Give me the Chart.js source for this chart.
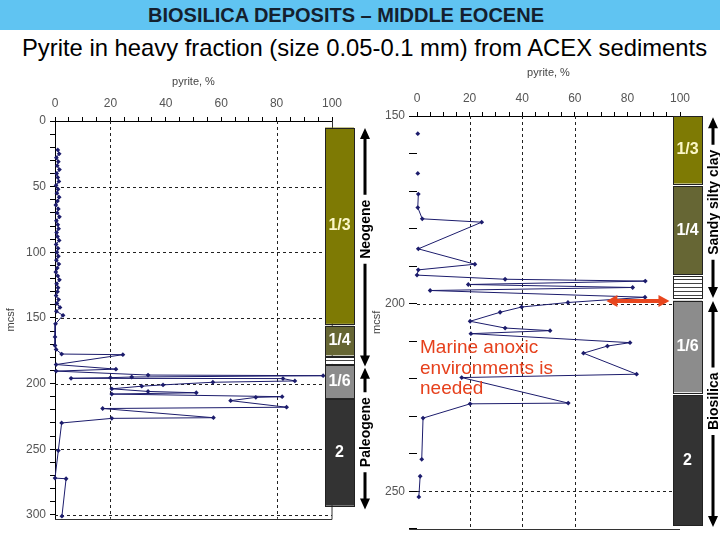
<!DOCTYPE html>
<html>
<head>
<meta charset="utf-8">
<script src="https://cdn.jsdelivr.net/npm/chart.js@4.4.1/dist/chart.umd.min.js"></script>
<style>
body { margin: 0; width: 720px; height: 540px; position: relative; overflow: hidden; background: #fff; font-family: Arial, "Liberation Sans", sans-serif; }
#band { position: absolute; left: 0; top: 0; width: 720px; height: 30px; background: #60c4f2; }
#head { position: absolute; left: 0; top: 4px; width: 692px; text-align: center; font-weight: bold; font-size: 20px; color: #14202e; }
#sub { position: absolute; left: 22px; top: 34px; font-size: 23.8px; color: #000; white-space: nowrap; }
#note { position: absolute; left: 420px; top: 337px; font-size: 19px; line-height: 20.5px; color: #e6401c; z-index: 2; }
canvas { position: absolute; }
#left { left: 0; top: 60px; }
#right { left: 370px; top: 55px; }
</style>
</head>
<body>
<div id="band"></div>
<div id="head">BIOSILICA DEPOSITS – MIDDLE EOCENE</div>
<div id="sub">Pyrite in heavy fraction (size 0.05-0.1 mm) from ACEX sediments</div>
<canvas id="left" width="380" height="470"></canvas>
<canvas id="right" width="350" height="485"></canvas>
<div id="note">Marine anoxic<br>environments is<br>needed</div>
<script>
// left core: depth (mcsf) and pyrite (%)
var leftDepth = [22, 25, 28, 31, 34, 37, 40, 43, 46, 49, 52, 55, 58, 61, 64, 67, 70, 73, 76, 79,
  82, 85, 88, 91, 94, 97, 100, 103, 106, 109, 112, 115, 118, 121, 124, 127, 130, 133, 136, 139,
  142, 145, 148, 154.5, 164.5, 171, 174, 177.5, 178, 185.5, 189, 190.5, 193.5, 194, 195, 195.5,
  196, 196.2, 198, 199, 201, 202, 204, 206, 207, 208, 210, 210.5, 213, 218, 219, 226, 226.5,
  230, 251, 272, 272.5, 301];
var leftPyrite = [1.0, 1.5, 0.5, 1.2, 0.8, 1.6, 0.6, 1.0, 1.4, 0.4, 1.1, 0.7, 1.5, 0.9, 0.3, 1.2, 0.8, 1.6, 0.5, 1.0,
  1.3, 0.6, 0.9, 1.5, 0.4, 1.1, 0.7, 1.2, 0.5, 1.4, 0.8, 0.3, 1.0, 1.6, 0.6, 1.1, 0.9, 0.4, 1.3, 0.7,
  1.8, 0.5, 2.9, 0.2, 0.0, 0.0, 0.4, 2.4, 24.5, 0.4, 22, 0.4, 33.6, 96.8, 27.7, 20,
  5.8, 82.3, 86.6, 57, 39, 31.3, 20.5, 33.6, 51, 20.5, 82, 72.5, 63.4, 83.6, 17.2, 57.2, 20.5,
  2.4, 1.2, 0.0, 4.0, 2.5];

// right core (expanded 150-260 mcsf), null = gap in the record
var rightDepth = [154.7, null, 165.3, null, 170.8, 174.4, 177.4, 178.3, 185.4, 189.5, 191, 192.4,
  193.5, 194, 194.9, 195.7, 196.5, 198.3, 199.7, 200.9, 202.3, 204.7, 206.5, 207.2, 208, 210.4,
  211.3, 213.2, 218.8, 219.7, 226.5, 226.7, 230.5, 241.5, null, 246, 251.5];
var rightPyrite = [0.3, null, 0.3, null, 0.5, 0.3, 2.0, 24.6, 0.5, 22, 0.5, 0,
  33.5, 86.8, 19.5, 82, 5, 86.7, 57.4, 39.8, 31.6, 20.2, 33.5, 50.6, 20.5, 81,
  72.4, 63.3, 83.5, 17, 57.5, 20.2, 2.3, 1.8, null, 1.2, 0.7];

// lithology column
var units = ['1/3', '1/4', '', '1/6', '2'];
var unitColors = ['#7e7a04', '#666634', '#ffffff', '#8c8c8c', '#333333'];
var leftUnitTop = [5, 156, 180, 186, 211.5];
var leftUnitBase = [154.5, 178.5, 185, 211, 293];
var rightUnitTop = [150, 168.7, 192.7, 199.2, 224.4];
var rightUnitBase = [168, 192.2, 198.5, 223.6, 259];

// stratigraphic brackets
var leftBrackets = ['Neogene', 'Paleogene'];
var leftBracketFrom = [5.3, 188];
var leftBracketTo = [187, 296];
var leftBracketMid = [82.5, 237];
var rightBrackets = ['Sandy silty clay', 'Biosilica'];
var rightBracketFrom = [150.3, 199.3];
var rightBracketTo = [198.5, 259.5];
var rightBracketMid = [173, 226];

var navy = '#1c1c6c';

function points(depth, vals) {
  return depth.map(function (d, i) {
    return d === null ? { x: null, y: null } : { x: vals[i], y: d };
  });
}

function range(a, b, s) {
  var out = [];
  for (var v = a; v <= b; v += s) out.push({ value: v });
  return out;
}

var overlay = {
  id: 'overlay',
  beforeDatasetsDraw: function (chart, args, o) {
    var ctx = chart.ctx, xs = chart.scales.x, ys = chart.scales.y, a = chart.chartArea;
    ctx.save();
    ctx.strokeStyle = '#222';
    ctx.lineWidth = 1;
    ctx.setLineDash([3, 3]);
    o.gridX.forEach(function (v) {
      var p = Math.round(xs.getPixelForValue(v)) + 0.5;
      ctx.beginPath(); ctx.moveTo(p, a.top); ctx.lineTo(p, a.bottom); ctx.stroke();
    });
    o.gridY.forEach(function (v) {
      var p = Math.round(ys.getPixelForValue(v)) + 0.5;
      ctx.beginPath(); ctx.moveTo(a.left, p); ctx.lineTo(a.right, p); ctx.stroke();
    });
    ctx.setLineDash([]);
    ctx.strokeStyle = '#333';
    ctx.beginPath();
    ctx.moveTo(o.bottomFrom === undefined ? a.left : xs.getPixelForValue(o.bottomFrom), Math.round(a.bottom) + 0.5);
    ctx.lineTo(a.right, Math.round(a.bottom) + 0.5);
    if (o.rightFrame) {
      ctx.lineTo(Math.round(a.right) + 0.5, a.top);
    }
    ctx.stroke();
    ctx.restore();
  },
  afterDatasetsDraw: function (chart, args, o) {
    var ctx = chart.ctx, ys = chart.scales.y, xs = chart.scales.x, a = chart.chartArea;
    ctx.save();
    var x0 = a.right - 7, w = 29;
    o.tops.forEach(function (t, i) {
      var y0 = ys.getPixelForValue(t), y1 = ys.getPixelForValue(o.bases[i]);
      ctx.fillStyle = unitColors[i];
      ctx.fillRect(x0, y0, w, y1 - y0);
      if (units[i] === '') {
        ctx.strokeStyle = '#444';
        ctx.lineWidth = 1;
        for (var yy = y0 + 3; yy < y1 - 1; yy += 4) {
          ctx.beginPath(); ctx.moveTo(x0, Math.round(yy) + 0.5); ctx.lineTo(x0 + w, Math.round(yy) + 0.5); ctx.stroke();
        }
      }
      ctx.strokeStyle = '#222';
      ctx.lineWidth = 1;
      ctx.strokeRect(Math.round(x0) + 0.5, Math.round(y0) + 0.5, w, Math.round(y1 - y0));
      if (units[i]) {
        ctx.fillStyle = i === 0 ? '#fbf7c8' : '#ffffff';
        ctx.font = 'bold 16px Arial, "Liberation Sans", sans-serif';
        ctx.textAlign = 'center';
        ctx.textBaseline = 'middle';
        ctx.fillText(units[i], x0 + w / 2, (y0 + y1) / 2);
      }
    });

    // brackets with arrows
    var bx = a.right + 33;
    ctx.font = 'bold 14px Arial, "Liberation Sans", sans-serif';
    ctx.fillStyle = '#000';
    ctx.strokeStyle = '#000';
    ctx.lineWidth = 3;
    o.brackets.forEach(function (name, i) {
      var yt = ys.getPixelForValue(o.bFrom[i]), yb = ys.getPixelForValue(o.bTo[i]), ym = ys.getPixelForValue(o.bMid[i]);
      var tw = ctx.measureText(name).width;
      ctx.save();
      ctx.translate(bx, ym);
      ctx.rotate(-Math.PI / 2);
      ctx.textAlign = 'center';
      ctx.textBaseline = 'middle';
      ctx.fillText(name, 0, 1);
      ctx.restore();
      ctx.beginPath();
      ctx.moveTo(bx, yt + 9); ctx.lineTo(bx, ym - tw / 2 - 5);
      ctx.moveTo(bx, ym + tw / 2 + 5); ctx.lineTo(bx, yb - 9);
      ctx.stroke();
      ctx.beginPath();
      ctx.moveTo(bx, yt); ctx.lineTo(bx - 5, yt + 11); ctx.lineTo(bx + 5, yt + 11); ctx.closePath();
      ctx.moveTo(bx, yb); ctx.lineTo(bx - 5, yb - 11); ctx.lineTo(bx + 5, yb - 11); ctx.closePath();
      ctx.fill();
    });

    // red double arrow
    if (o.arrow) {
      var ay = ys.getPixelForValue(o.arrow[0]);
      var ax0 = xs.getPixelForValue(o.arrow[1]), ax1 = xs.getPixelForValue(o.arrow[2]);
      ctx.strokeStyle = '#e8461e';
      ctx.fillStyle = '#e8461e';
      ctx.lineWidth = 4;
      ctx.beginPath(); ctx.moveTo(ax0 + 8, ay); ctx.lineTo(ax1 - 8, ay); ctx.stroke();
      ctx.beginPath();
      ctx.moveTo(ax0, ay); ctx.lineTo(ax0 + 11, ay - 6); ctx.lineTo(ax0 + 11, ay + 6); ctx.closePath();
      ctx.moveTo(ax1, ay); ctx.lineTo(ax1 - 11, ay - 6); ctx.lineTo(ax1 - 11, ay + 6); ctx.closePath();
      ctx.fill();
    }
    ctx.restore();
  }
};

function makeChart(id, cfg) {
  var ctx = document.getElementById(id).getContext('2d');
  return new Chart(ctx, {
    type: 'scatter',
    data: {
      datasets: [{
        data: points(cfg.depth, cfg.pyrite),
        showLine: true,
        spanGaps: false,
        borderColor: navy,
        borderWidth: 1,
        backgroundColor: navy,
        pointBackgroundColor: navy,
        pointBorderColor: navy,
        pointBorderWidth: 0,
        pointStyle: 'rectRot',
        pointRadius: 2.4,
        clip: false
      }]
    },
    options: {
      responsive: false,
      animation: false,
      layout: { padding: cfg.padding },
      plugins: {
        legend: { display: false },
        tooltip: { enabled: false },
        overlay: cfg.overlay
      },
      scales: {
        x: {
          type: 'linear',
          position: 'top',
          min: 0,
          max: 100,
          afterBuildTicks: function (s) { s.ticks = range(0, 100, 5); },
          afterFit: function (s) { s.height = cfg.xHeight; },
          ticks: {
            autoSkip: false, maxRotation: 0, minRotation: 0, padding: 6,
            color: '#555', font: { size: 12 },
            callback: function (v) { return v % 20 === 0 ? v : ''; }
          },
          grid: { drawOnChartArea: false, tickLength: 4, tickColor: '#000' },
          border: { color: '#000', width: 1 },
          title: { display: true, text: 'pyrite, %', color: '#444', font: { size: 11 }, padding: { top: cfg.titleTop, bottom: 0 } }
        },
        y: {
          type: 'linear',
          reverse: true,
          min: cfg.yMin,
          max: cfg.yMax,
          afterBuildTicks: function (s) { s.ticks = range(cfg.yMin, cfg.yMax, 10); },
          afterFit: function (s) { s.width = cfg.yWidth; },
          ticks: {
            autoSkip: false, padding: 4,
            color: '#555', font: { size: 12 },
            callback: function (v) { return v % 50 === 0 ? v : ''; }
          },
          grid: { drawOnChartArea: false, tickLength: cfg.yTick, tickColor: '#000' },
          border: { display: cfg.yBorder, color: '#000', width: 1 },
          title: { display: true, text: 'mcsf', color: '#444', font: { size: 11 }, padding: { top: cfg.yTitlePad, bottom: 0 } }
        }
      }
    },
    plugins: [overlay]
  });
}

makeChart('left', {
  depth: leftDepth, pyrite: leftPyrite,
  yMin: 0, yMax: 303, xHeight: 61, yWidth: 55, yTick: 5, yBorder: true, yTitlePad: 4, titleTop: 15,
  padding: { left: 0, top: 0, right: 48, bottom: 6 },
  overlay: {
    gridX: [20, 80], gridY: [50, 100, 150, 200, 250, 300], rightFrame: true,
    tops: leftUnitTop, bases: leftUnitBase,
    brackets: leftBrackets, bFrom: leftBracketFrom, bTo: leftBracketTo, bMid: leftBracketMid
  }
});

makeChart('right', {
  depth: rightDepth, pyrite: rightPyrite,
  yMin: 150, yMax: 260, xHeight: 61, yWidth: 47, yTick: 8, yBorder: false, yTitlePad: 0, titleTop: 11,
  padding: { left: 0, top: 0, right: 40, bottom: 7 },
  overlay: {
    gridX: [20, 40, 60], gridY: [200, 250], rightFrame: false, bottomFrom: -3,
    tops: rightUnitTop, bases: rightUnitBase,
    brackets: rightBrackets, bFrom: rightBracketFrom, bTo: rightBracketTo, bMid: rightBracketMid,
    arrow: [199.3, 72, 96]
  }
});
</script>
</body>
</html>
